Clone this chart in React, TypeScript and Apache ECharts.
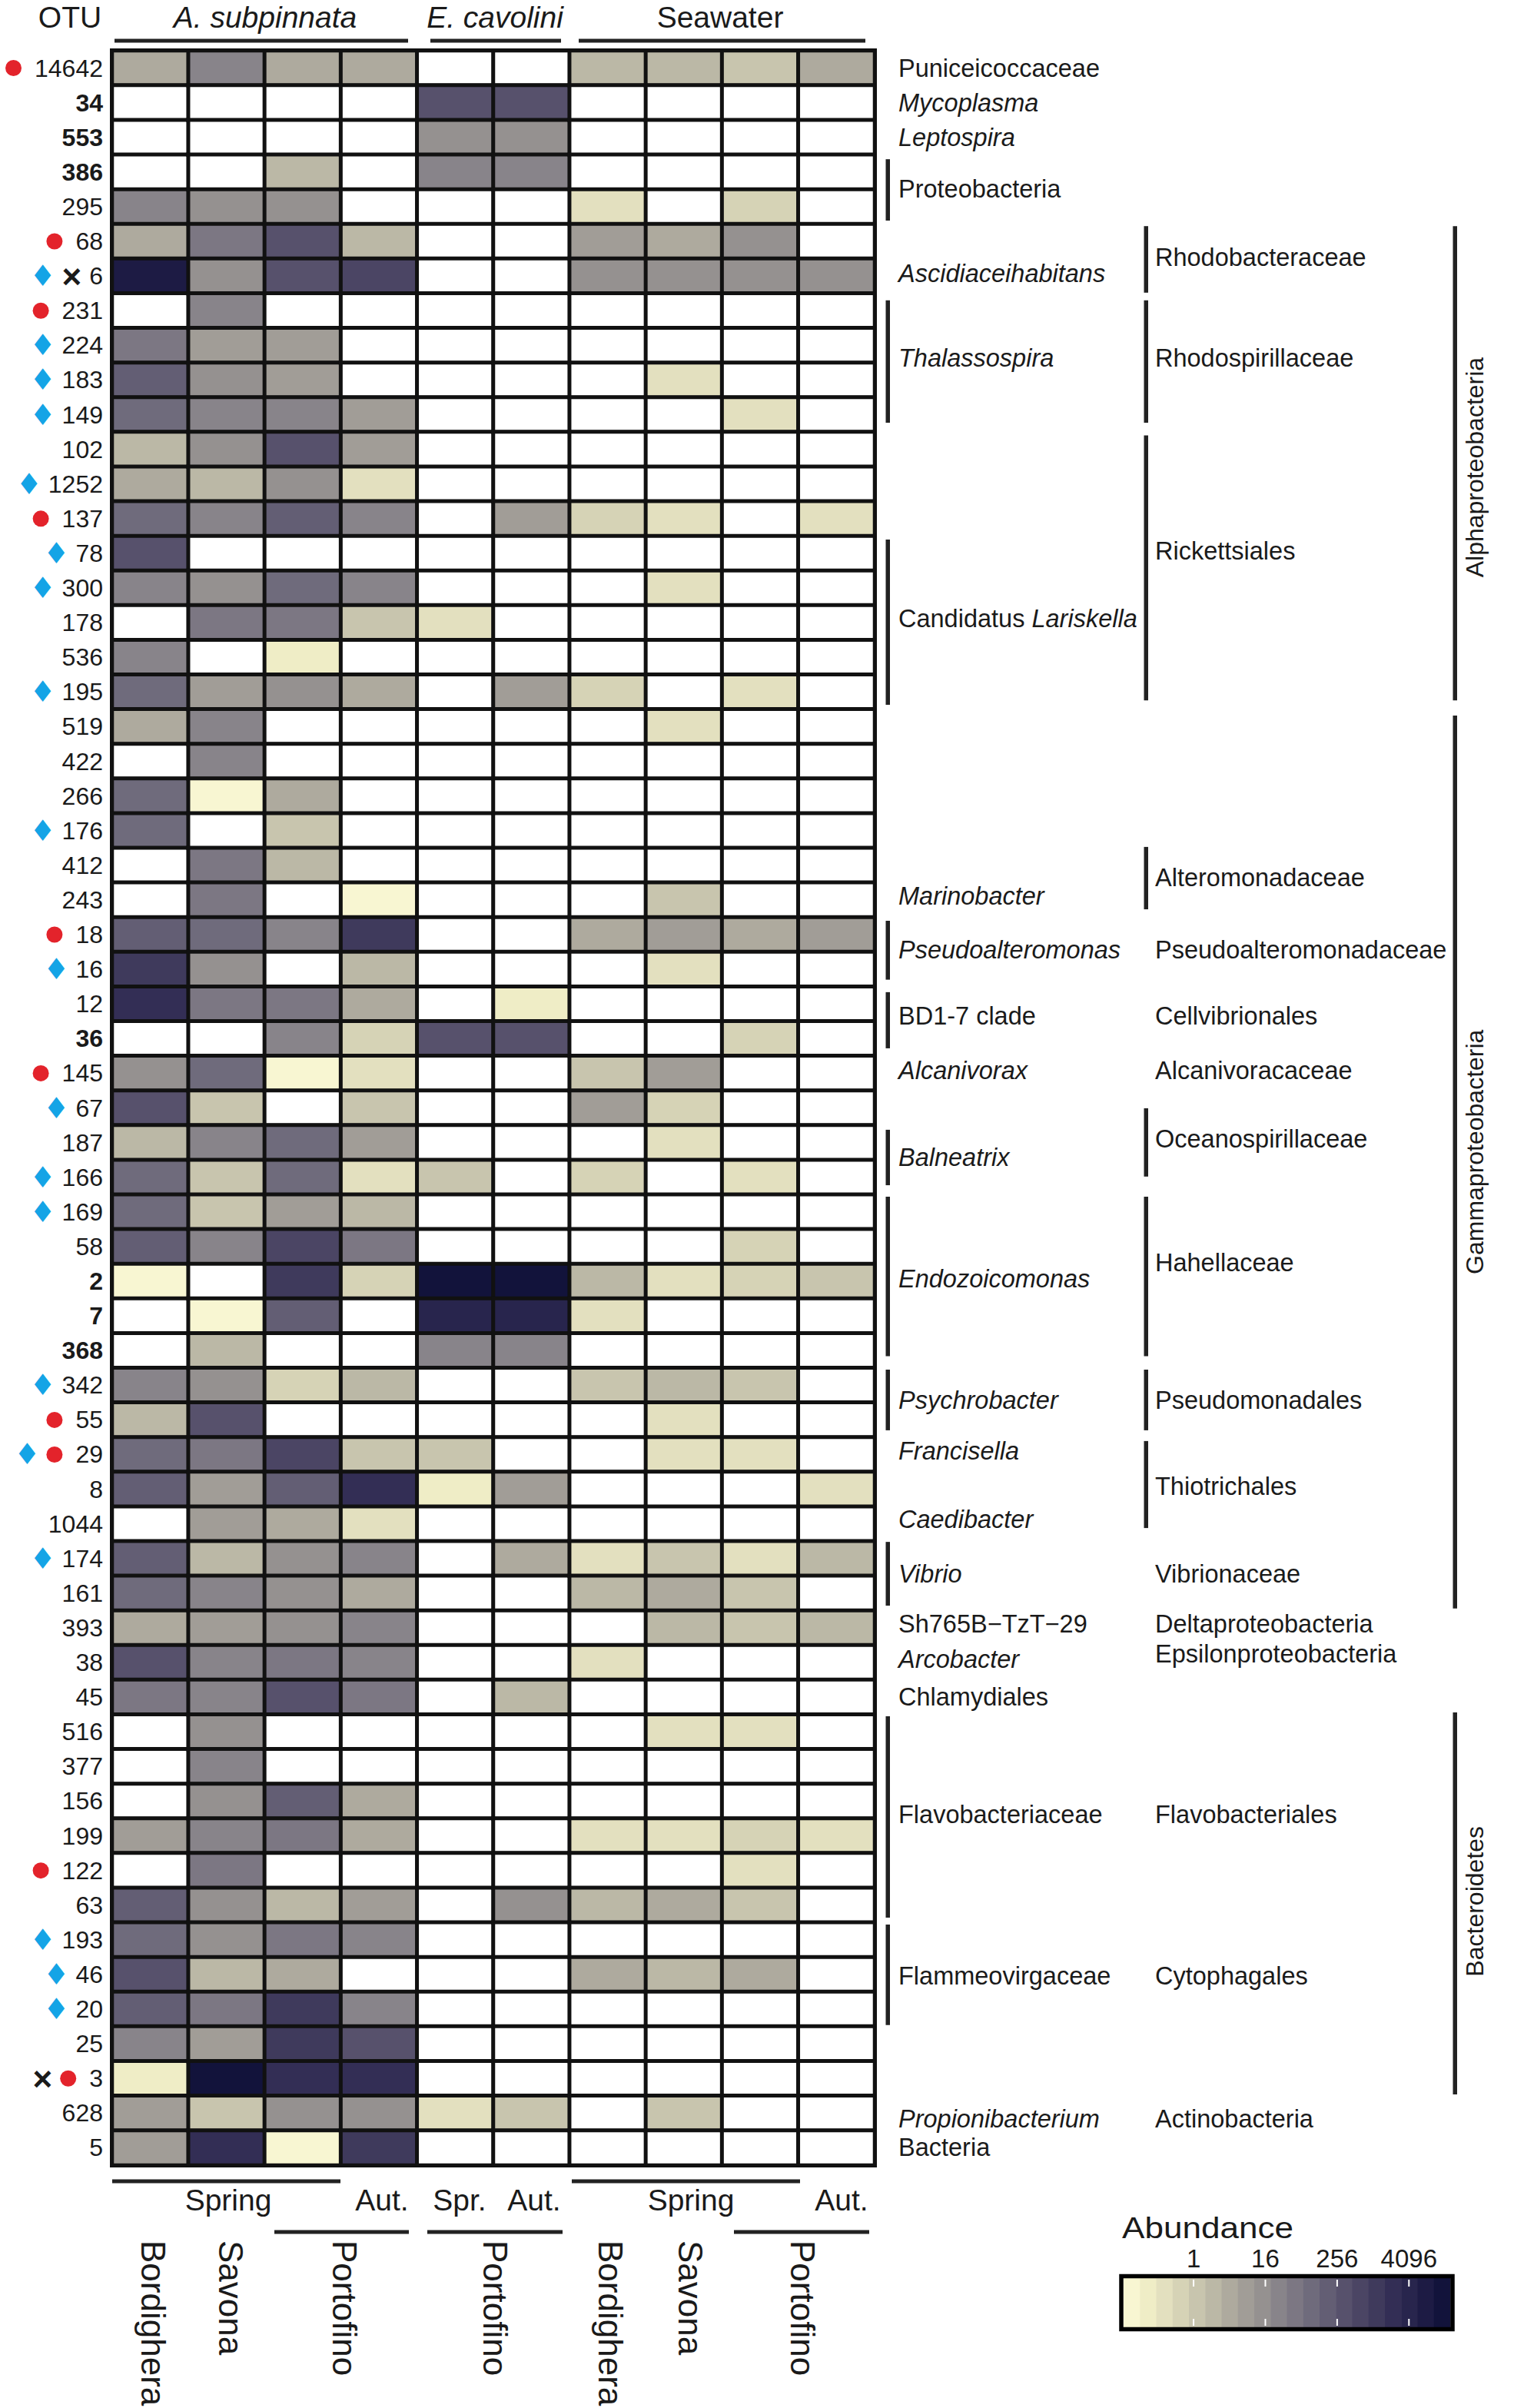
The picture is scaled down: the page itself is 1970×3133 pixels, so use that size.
import React, { useEffect, useRef } from 'react';
import * as echarts from 'echarts';

// ================= DATA =================
const samples = [
  'A. subpinnata Bordighera Spring', 'A. subpinnata Savona Spring', 'A. subpinnata Portofino Spring', 'A. subpinnata Portofino Autumn',
  'E. cavolini Portofino Spring', 'E. cavolini Portofino Autumn',
  'Seawater Bordighera Spring', 'Seawater Savona Spring', 'Seawater Portofino Spring', 'Seawater Portofino Autumn',
];

const otuIds = [
  '14642', '34', '553', '386', '295', '68', '6', '231', '224', '183',
  '149', '102', '1252', '137', '78', '300', '178', '536', '195', '519',
  '422', '266', '176', '412', '243', '18', '16', '12', '36', '145',
  '67', '187', '166', '169', '58', '2', '7', '368', '342', '55',
  '29', '8', '1044', '174', '161', '393', '38', '45', '516', '377',
  '156', '199', '122', '63', '193', '46', '20', '25', '3', '628', '5',
];
const boldOtus = ['34', '553', '386', '36', '2', '7', '368'];
// r = red dot, d = blue diamond, x = cross (in drawing order)
const otuMarkers: Record<string, string> = {
  '14642': 'r', '68': 'r', '6': 'dx', '231': 'r', '224': 'd', '183': 'd', '149': 'd', '1252': 'd',
  '137': 'r', '78': 'd', '300': 'd', '195': 'd', '176': 'd', '18': 'r', '16': 'd', '145': 'r',
  '67': 'd', '166': 'd', '169': 'd', '342': 'd', '55': 'r', '29': 'dr', '174': 'd', '122': 'r',
  '193': 'd', '46': 'd', '20': 'd', '3': 'xr',
};

// abundance per sample (0 = absent), rows in otuIds order
const asBordigheraSpring = [
  4, 0, 0, 0, 26, 4, 7600, 0, 52, 180,
  97, 2, 4, 97, 340, 26, 0, 26, 97, 4,
  0, 97, 97, 0, 0, 180, 1180, 2200, 0, 14,
  340, 2, 97, 97, 180, 0.1, 0, 0, 26, 2,
  97, 180, 0, 180, 97, 4, 340, 52, 0, 0,
  0, 7.5, 0, 180, 97, 340, 180, 26, 0.18, 7.5,
  7.5,
];
const asSavonaSpring = [
  26, 0, 0, 0, 14, 52, 14, 26, 7.5, 14,
  26, 14, 2, 26, 0, 14, 52, 0, 7.5, 26,
  26, 0.1, 0, 52, 52, 97, 14, 52, 0, 97,
  1.2, 26, 1.2, 1.2, 26, 0, 0.1, 2, 14, 340,
  52, 7.5, 7.5, 2, 26, 7.5, 26, 26, 14, 26,
  14, 26, 52, 14, 14, 2, 52, 7.5, 15000, 1.2,
  2200,
];
const asPortofinoSpring = [
  4, 0, 0, 2, 14, 340, 340, 0, 7.5, 7.5,
  26, 340, 14, 180, 0, 97, 52, 0.18, 14, 0,
  0, 4, 1.2, 2, 0, 26, 0, 52, 26, 0.1,
  0, 97, 97, 7.5, 630, 1180, 180, 0, 0.6, 0,
  630, 180, 4, 14, 14, 14, 52, 340, 0, 0,
  180, 52, 0, 2, 52, 4, 1180, 1180, 2200, 14,
  0.1,
];
const asPortofinoAutumn = [
  4, 0, 0, 0, 0, 2, 630, 0, 0, 0,
  7.5, 7.5, 0.33, 26, 0, 26, 1.2, 0, 4, 0,
  0, 0, 0, 0, 0.1, 1180, 2, 4, 0.6, 0.33,
  1.2, 7.5, 0.33, 2, 52, 0.6, 0, 0, 2, 0,
  1.2, 2200, 0.33, 26, 4, 26, 26, 52, 0, 0,
  4, 4, 0, 7.5, 26, 0, 26, 340, 2200, 14,
  1180,
];
const ecPortofinoSpring = [
  0, 340, 14, 26, 0, 0, 0, 0, 0, 0,
  0, 0, 0, 0, 0, 0, 0.33, 0, 0, 0,
  0, 0, 0, 0, 0, 0, 0, 0, 340, 0,
  0, 0, 1.2, 0, 0, 15000, 4100, 26, 0, 0,
  1.2, 0.18, 0, 0, 0, 0, 0, 0, 0, 0,
  0, 0, 0, 0, 0, 0, 0, 0, 0, 0.33,
  0,
];
const ecPortofinoAutumn = [
  0, 340, 14, 26, 0, 0, 0, 0, 0, 0,
  0, 0, 0, 7.5, 0, 0, 0, 0, 7.5, 0,
  0, 0, 0, 0, 0, 0, 0, 0.18, 340, 0,
  0, 0, 0, 0, 0, 15000, 4100, 26, 0, 0,
  0, 7.5, 0, 4, 0, 0, 0, 2, 0, 0,
  0, 0, 0, 14, 0, 0, 0, 0, 0, 1.2,
  0,
];
const swBordigheraSpring = [
  2, 0, 0, 0, 0.33, 7.5, 14, 0, 0, 0,
  0, 0, 0, 0.6, 0, 0, 0, 0, 0.6, 0,
  0, 0, 0, 0, 0, 4, 0, 0, 0, 1.2,
  7.5, 0, 0.6, 0, 0, 2, 0.33, 0, 1.2, 0,
  0, 0, 0, 0.33, 2, 0, 0.33, 0, 0, 0,
  0, 0.33, 0, 2, 0, 4, 0, 0, 0, 0,
  0,
];
const swSavonaSpring = [
  2, 0, 0, 0, 0, 4, 14, 0, 0, 0.33,
  0, 0, 0, 0.33, 0, 0.33, 0, 0, 0, 0.33,
  0, 0, 0, 0, 1.2, 7.5, 0.33, 0, 0, 7.5,
  0.6, 0.33, 0, 0, 0, 0.33, 0, 0, 2, 0.33,
  0.33, 0, 0, 1.2, 4, 2, 0, 0, 0.33, 0,
  0, 0.33, 0, 4, 0, 2, 0, 0, 0, 1.2,
  0,
];
const swPortofinoSpring = [
  1.2, 0, 0, 0, 0.6, 14, 14, 0, 0, 0,
  0.33, 0, 0, 0, 0, 0, 0, 0, 0.33, 0,
  0, 0, 0, 0, 0, 4, 0, 0, 0.6, 0,
  0, 0, 0.33, 0, 0.6, 0.6, 0, 0, 1.2, 0,
  0.33, 0, 0, 0.33, 1.2, 1.2, 0, 0, 0.33, 0,
  0, 0.6, 0.33, 1.2, 0, 4, 0, 0, 0, 0,
  0,
];
const swPortofinoAutumn = [
  4, 0, 0, 0, 0, 0, 14, 0, 0, 0,
  0, 0, 0, 0.33, 0, 0, 0, 0, 0, 0,
  0, 0, 0, 0, 0, 7.5, 0, 0, 0, 0,
  0, 0, 0, 0, 0, 1.2, 0, 0, 0, 0,
  0, 0.33, 0, 2, 0, 2, 0, 0, 0, 0,
  0, 0.33, 0, 0, 0, 0, 0, 0, 0, 0,
  0,
];

const hostGroups = ['A. subpinnata', 'E. cavolini', 'Seawater'];
const seasonLabels = ['Spring', 'Aut.', 'Spr.', 'Aut.', 'Spring', 'Aut.'];
const siteLabels = ['Bordighera', 'Savona', 'Portofino', 'Portofino', 'Bordighera', 'Savona', 'Portofino'];
const legendTicks = [1, 16, 256, 4096];
const palette = [
  '#f8f6d2', '#efedc6', '#e3e0bf', '#d6d3b6', '#c8c5ae', '#bbb8a6', '#aeaa9e', '#a19d97', '#959190', '#88848a',
  '#7c7783', '#6f6b7c', '#635e74', '#57516c', '#4b4564', '#3f3a5c', '#332e55', '#28254d', '#1d1b44', '#12133b',
];

// taxonomy annotations: label text and the row position (in row units) it sits at
const genusLabels = [
  { text: 'Puniceicoccaceae', row: 0.5 },
  { text: 'Mycoplasma', row: 1.5, italic: true },
  { text: 'Leptospira', row: 2.5, italic: true },
  { text: 'Proteobacteria', row: 4.0 },
  { text: 'Ascidiaceihabitans', row: 6.43, italic: true },
  { text: 'Thalassospira', row: 8.87, italic: true },
  { text: 'Candidatus', tail: 'Lariskella', row: 16.39 },
  { text: 'Marinobacter', row: 24.39, italic: true },
  { text: 'Pseudoalteromonas', row: 25.94, italic: true },
  { text: 'BD1-7 clade', row: 27.85 },
  { text: 'Alcanivorax', row: 29.42, italic: true },
  { text: 'Balneatrix', row: 31.93, italic: true },
  { text: 'Endozoicomonas', row: 35.44, italic: true },
  { text: 'Psychrobacter', row: 38.94, italic: true },
  { text: 'Francisella', row: 40.4, italic: true },
  { text: 'Caedibacter', row: 42.38, italic: true },
  { text: 'Vibrio', row: 43.95, italic: true },
  { text: 'Sh765B\u2212TzT\u221229', row: 45.39 },
  { text: 'Arcobacter', row: 46.41, italic: true },
  { text: 'Chlamydiales', row: 47.49 },
  { text: 'Flavobacteriaceae', row: 50.89 },
  { text: 'Flammeovirgaceae', row: 55.54 },
  { text: 'Propionibacterium', row: 59.66, italic: true },
  { text: 'Bacteria', row: 60.49 },
];
const familyLabels = [
  { text: 'Rhodobacteraceae', row: 5.96 },
  { text: 'Rhodospirillaceae', row: 8.87 },
  { text: 'Rickettsiales', row: 14.43 },
  { text: 'Alteromonadaceae', row: 23.86 },
  { text: 'Pseudoalteromonadaceae', row: 25.94 },
  { text: 'Cellvibrionales', row: 27.85 },
  { text: 'Alcanivoracaceae', row: 29.42 },
  { text: 'Oceanospirillaceae', row: 31.4 },
  { text: 'Hahellaceae', row: 34.97 },
  { text: 'Pseudomonadales', row: 38.94 },
  { text: 'Thiotrichales', row: 41.42 },
  { text: 'Vibrionaceae', row: 43.95 },
  { text: 'Deltaproteobacteria', row: 45.39 },
  { text: 'Epsilonproteobacteria', row: 46.25 },
  { text: 'Flavobacteriales', row: 50.89 },
  { text: 'Cytophagales', row: 55.54 },
  { text: 'Actinobacteria', row: 59.66 },
];
const genusBrackets = [
  [3.13, 4.9], [7.2, 10.73], [14.1, 18.87], [25.1, 26.8], [27.16, 28.78], [31.13, 32.73],
  [33.06, 37.66], [38.05, 39.8], [43.02, 44.86], [48.05, 53.86], [54.06, 56.96],
];
const familyBrackets = [
  [5.06, 6.98], [7.2, 10.73], [11.1, 18.74], [22.97, 24.77], [30.51, 32.48], [33.06, 37.66],
  [38.05, 39.8], [40.11, 42.62],
];
const phylumGroups = [
  { text: 'Alphaproteobacteria', from: 5.06, to: 18.74, mid: 12.02 },
  { text: 'Gammaproteobacteria', from: 19.18, to: 44.94, mid: 31.77 },
  { text: 'Bacteroidetes', from: 47.94, to: 58.96, mid: 53.39 },
];

// ================= LAYOUT =================
const W = 1970;
const H = 3133;
const GRID_LEFT = 146;
const GRID_TOP = 66;
const GRID_W = 992;
const GRID_H = 2751;
const ROW_H = GRID_H / otuIds.length;
const LOG_MIN = -3.9;
const LOG_MAX = 14.3;
const FONT = '"Liberation Sans", Arial, Helvetica, sans-serif';
const INK = '#1a1a1a';
const BAR = '#222222';
const LABEL_SIZE = 32.5;

const rowY = (r: number) => GRID_TOP + ROW_H * r;

function text(t: string, x: number, y: number, o: any = {}) {
  return {
    type: 'text',
    x,
    y,
    rotation: o.rotation || 0,
    scaleX: o.scaleX || 1,
    silent: true,
    style: {
      text: t,
      fill: o.fill || INK,
      fontSize: o.fontSize || LABEL_SIZE,
      fontFamily: FONT,
      fontStyle: o.italic ? 'italic' : 'normal',
      fontWeight: o.bold ? 'bold' : 'normal',
      align: o.align || 'left',
      verticalAlign: 'middle',
      rich: o.rich,
    },
  };
}
function bar(x: number, y: number, w: number, h: number, fill = BAR) {
  return { type: 'rect', silent: true, shape: { x, y, width: w, height: h }, style: { fill } };
}

function buildOption() {
  const columns = [
    asBordigheraSpring, asSavonaSpring, asPortofinoSpring, asPortofinoAutumn,
    ecPortofinoSpring, ecPortofinoAutumn,
    swBordigheraSpring, swSavonaSpring, swPortofinoSpring, swPortofinoAutumn,
  ];
  const ABSENT = LOG_MIN - 1;
  const data: any[] = [];
  columns.forEach((col, ci) =>
    col.forEach((v, ri) => data.push([ci, ri, v > 0 ? Math.log2(v) : ABSENT]))
  );
  const step = (LOG_MAX - LOG_MIN) / palette.length;
  const pieces: any[] = [{ lt: LOG_MIN, color: '#ffffff' }];
  palette.forEach((c, i) => {
    pieces.push({
      gte: LOG_MIN + i * step,
      lt: i === palette.length - 1 ? LOG_MAX + 10 : LOG_MIN + (i + 1) * step,
      color: c,
    });
  });

  const g: any[] = [];
  // headers
  g.push(text('OTU', 91, 22, { fontSize: 39, align: 'center' }));
  const hostX = [345, 644, 937];
  const hostItalic = [true, true, false];
  hostGroups.forEach((h, i) => g.push(text(h, hostX[i], 22, { fontSize: 39, align: 'center', italic: hostItalic[i] })));
  [[149, 531], [560, 730], [753, 1126]].forEach(([a, b]) => g.push(bar(a, 50.5, b - a, 5)));

  // right annotations
  const GX = 1169, FX = 1503, GBX = 1152.5, FBX = 1488.5, PBX = 1890.5, PTX = 1919;
  genusLabels.forEach((l: any) => {
    if (l.tail) {
      g.push(text(`{a|${l.text} }{b|${l.tail}}`, GX, rowY(l.row), {
        rich: {
          a: { fontSize: LABEL_SIZE, fontFamily: FONT, fill: INK },
          b: { fontSize: LABEL_SIZE, fontFamily: FONT, fontStyle: 'italic', fill: INK },
        },
      }));
    } else {
      g.push(text(l.text, GX, rowY(l.row), { italic: l.italic }));
    }
  });
  familyLabels.forEach((l) => g.push(text(l.text, FX, rowY(l.row))));
  genusBrackets.forEach(([a, b]) => g.push(bar(GBX, rowY(a), 5.5, rowY(b) - rowY(a))));
  familyBrackets.forEach(([a, b]) => g.push(bar(FBX, rowY(a), 5.5, rowY(b) - rowY(a))));
  phylumGroups.forEach((p) => {
    g.push(bar(PBX, rowY(p.from), 5.5, rowY(p.to) - rowY(p.from)));
    g.push(text(p.text, PTX, rowY(p.mid), { fontSize: 32, align: 'center', rotation: Math.PI / 2 }));
  });

  // bottom: season lines & labels
  [[146, 443], [744, 1041]].forEach(([a, b]) => g.push(bar(a, 2835.5, b - a, 5)));
  [[357, 532], [556, 732], [955, 1131]].forEach(([a, b]) => g.push(bar(a, 2901.5, b - a, 5)));
  const seasonX = [297, 497, 598, 695, 899, 1095];
  seasonLabels.forEach((s, i) => g.push(text(s, seasonX[i], 2862, { fontSize: 39, align: 'center' })));
  const siteX = [199, 300, 448, 644, 794, 898, 1044];
  siteLabels.forEach((s, i) => g.push(text(s, siteX[i], 2915, { fontSize: 44, rotation: -Math.PI / 2 })));

  // legend
  const LX = 1462, LY = 2964, LW = 425, LH = 64;
  const lx = (v: number) => LX + ((Math.log2(v) - LOG_MIN) / (LOG_MAX - LOG_MIN)) * LW;
  g.push(text('Abundance', 1460, 2899, { fontSize: 38, scaleX: 1.16 }));
  palette.forEach((c, i) => g.push(bar(LX + (i * LW) / palette.length, LY, LW / palette.length + 0.6, LH, c)));
  g.push({
    type: 'rect', silent: true,
    shape: { x: 1459, y: 2961.5, width: 431, height: 69 },
    style: { fill: 'none', stroke: '#000', lineWidth: 5.5 },
  });
  legendTicks.forEach((t) => {
    const x = lx(t);
    g.push(text(String(t), x, 2938, { fontSize: 33, align: 'center' }));
    g.push(bar(x - 1, 2966, 2, 9, '#ffffff'));
    g.push(bar(x - 1, 3017, 2, 9, '#ffffff'));
  });

  return {
    animation: false,
    backgroundColor: '#ffffff',
    grid: {
      left: GRID_LEFT, top: GRID_TOP, width: GRID_W, height: GRID_H,
      show: true, backgroundColor: '#ffffff', borderColor: '#111111', borderWidth: 6,
    },
    xAxis: {
      type: 'category', data: samples,
      axisLabel: { show: false }, axisTick: { show: false }, axisLine: { show: false }, splitLine: { show: false },
    },
    yAxis: {
      type: 'category', data: otuIds, inverse: true,
      axisTick: { show: false }, axisLine: { show: false }, splitLine: { show: false },
      axisLabel: {
        interval: 0,
        margin: 12,
        fontSize: 32,
        fontFamily: FONT,
        color: INK,
        formatter: (value: string) => {
          const marks = otuMarkers[value] || '';
          let s = '';
          for (const m of marks) {
            if (m === 'r') s += '{r|}{gr|}';
            else if (m === 'd') s += '{d|\u2666}{gd|}';
            else if (m === 'x') s += '{x|\u00D7}{gx|}';
          }
          s += boldOtus.includes(value) ? `{nb|${value}}` : `{n|${value}}`;
          return s;
        },
        rich: {
          n: { fontSize: 32, fontFamily: FONT, color: INK },
          nb: { fontSize: 32, fontFamily: FONT, fontWeight: 'bold', color: INK },
          r: { width: 21, height: 21, borderRadius: 10.5, backgroundColor: '#e3232b' },
          gr: { width: 17 },
          d: { fontSize: 38, fontFamily: '"DejaVu Sans"', color: '#14a4e6' },
          gd: { width: 8 },
          x: { fontSize: 44, fontFamily: FONT, fontWeight: 'bold', color: INK },
          gx: { width: 10 },
        },
      },
    },
    visualMap: { type: 'piecewise', show: false, dimension: 2, seriesIndex: 0, pieces },
    series: [
      {
        type: 'heatmap',
        data,
        silent: true,
        emphasis: { disabled: true },
        itemStyle: { borderColor: '#111111', borderWidth: 5 },
      },
    ],
    graphic: g,
  };
}

export default function App() {
  const ref = useRef<HTMLDivElement>(null);
  useEffect(() => {
    if (!ref.current) return;
    const chart = echarts.init(ref.current, null, { renderer: 'svg' });
    chart.setOption(buildOption() as any);
    return () => chart.dispose();
  }, []);
  return (
    <div
      ref={ref}
      style={{ position: 'absolute', left: 0, top: 0, width: W, height: H, background: '#fff' }}
    />
  );
}
